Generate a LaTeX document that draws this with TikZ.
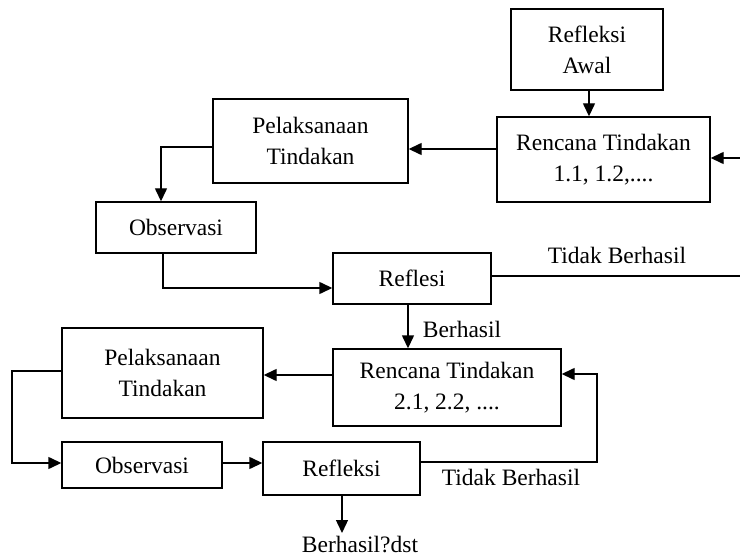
\documentclass[tikz,border=0pt]{standalone}
\usepackage{fontspec}
\setmainfont{Liberation Serif}
\usetikzlibrary{arrows.meta}

\begin{document}
\begin{tikzpicture}[x=1pt, y=-1pt,
        box/.style={draw, line width=1.4pt, align=center, inner sep=0pt,
            font=\fontsize{23.5}{31}\selectfont},
        lbl/.style={font=\fontsize{23.5}{31}\selectfont, inner sep=0pt},
        arr/.style={line width=1.4pt, -{Triangle[length=13pt, width=12pt]}},
        ln/.style={line width=1.4pt}]
        \useasboundingbox (0,0) rectangle (740,559);

        % First cycle
        \node[box, minimum width=152pt, minimum height=81pt] (awal) at (587,49.5) {Refleksi\\Awal};
        \node[box, minimum width=213pt, minimum height=85pt] (ren1) at (603.5,159.5) {Rencana Tindakan\\1.1, 1.2,....};
        \node[box, minimum width=195pt, minimum height=84pt] (pel1) at (310.5,141) {Pelaksanaan\\Tindakan};
        \node[box, minimum width=160pt, minimum height=51pt] (obs1) at (176,227.5) {Observasi};
        \node[box, minimum width=158pt, minimum height=51pt] (ref1) at (412,278.5) {Reflesi};

        % Second cycle
        \node[box, minimum width=228pt, minimum height=77pt] (ren2) at (447,387.5) {Rencana Tindakan\\2.1, 2.2, ....};
        \node[box, minimum width=201pt, minimum height=90pt] (pel2) at (162.5,373) {Pelaksanaan\\Tindakan};
        \node[box, minimum width=160pt, minimum height=46pt] (obs2) at (142,465) {Observasi};
        \node[box, minimum width=157pt, minimum height=53pt] (ref2) at (341.5,468.5) {Refleksi};
        \node[lbl] (dst) at (360,545) {Berhasil?dst};

        % Free ends at the right border
        \coordinate (in1) at (740,158);
        \coordinate (out1) at (740,276);

        % Connectors of the first cycle
        \draw[arr] (awal.south -| 589,0) -- (ren1.north -| 589,0);
        \draw[arr] (in1) -- (ren1.east |- in1);
        \draw[arr] (ren1.west |- 0,149) -- (pel1.east |- 0,149);
        \draw[arr] (pel1.west |- 0,147) -| ([xshift=-15pt]obs1.north);
        \draw[arr] ([xshift=-13pt]obs1.south) |- (ref1.west |- 0,288);
        \draw[ln] (ref1.east |- out1) -- (out1);
        \node[lbl] (tb1) at (617,255) {Tidak Berhasil};
        \draw[arr] ([xshift=-4pt]ref1.south) -- ([xshift=-39pt]ren2.north);
        \node[lbl] (bh1) at (462,329) {Berhasil};

        % Connectors of the second cycle
        \draw[arr] (ren2.west |- 0,375) -- (pel2.east |- 0,375);
        \draw[arr] (pel2.west |- 0,371) -- (12,371) |- (obs2.west |- 0,463);
        \draw[arr] (obs2.east |- 0,463) -- (ref2.west |- 0,463);
        \draw[arr] (ref2.east |- 0,462) -- (597,462) |- (ren2.east |- 0,374);
        \node[lbl] (tb2) at (511,477) {Tidak Berhasil};
        \draw[arr] (ref2.south -| 342,0) -- (342,533);
    \end{tikzpicture}
\end{document}
